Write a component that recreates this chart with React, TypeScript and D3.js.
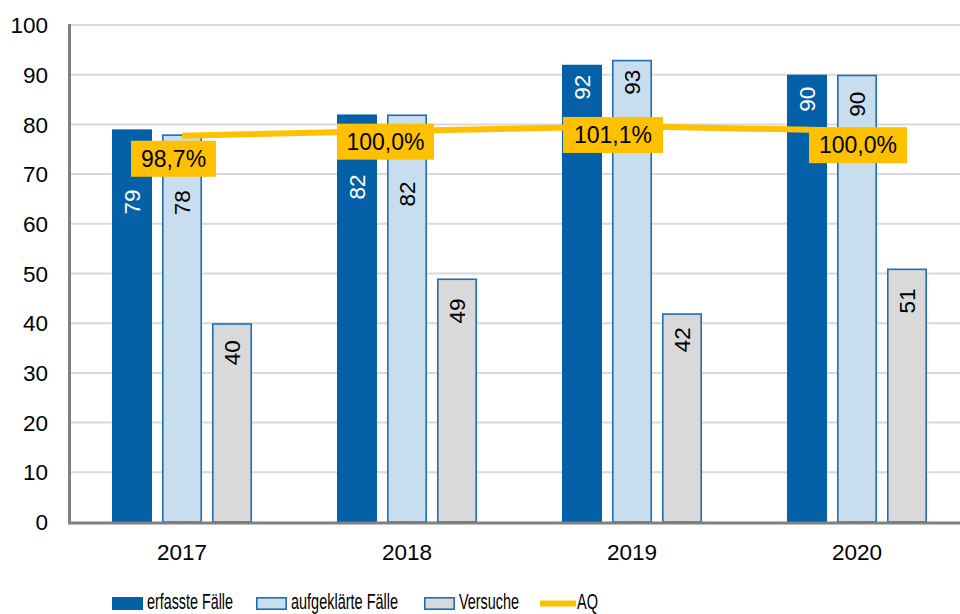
import React from "react";
import * as d3 from "d3";

const years = ["2017", "2018", "2019", "2020"];
const erfasst = [79, 82, 92, 90];
const aufgeklaert = [78, 82, 93, 90];
const versuche = [40, 49, 42, 51];
const aq = [98.7, 100.0, 101.1, 100.0];
const aqLabels = ["98,7%", "100,0%", "101,1%", "100,0%"];
const yTicks = [0, 10, 20, 30, 40, 50, 60, 70, 80, 90, 100];
const legendNames = ["erfasste Fälle", "aufgeklärte Fälle", "Versuche", "AQ"];

// layout constants (label placement as in the reference)
const barLabelShift = [
  [60, 60, 10, 12],
  [56, 67, 10, 17],
  [17, 20, 14, 20],
];
const aqBox = [
  { dx: -8.5, dy: 23, w: 85 },
  { dx: -21.5, dy: 11, w: 97 },
  { dx: -19, dy: 8.6, w: 100 },
  { dx: 1, dy: 14.5, w: 98 },
];

const W = 960;
const H = 614;
const left = 69.5;
const top = 25;
const bottom = 522;
const FONT = "Liberation Sans, Arial, sans-serif";

const DARK = "#0461a8";
const LIGHT = "#c8deef";
const GREY = "#d9d9d9";
const STROKE = "#1f6db4";
const GOLD = "#ffc000";

export default function App() {
  const x = d3.scaleBand<string>().domain(years).range([left, left + 900]).padding(0);
  const y = d3.scaleLinear().domain([0, 100]).range([bottom, top]);
  const y2 = d3.scaleLinear().domain([0, 127]).range([bottom, top]);
  const center = (i: number) => (x(years[i]) as number) + x.bandwidth() / 2;

  const series = [
    { values: erfasst, fill: DARK, stroke: "none", text: "#ffffff" },
    { values: aufgeklaert, fill: LIGHT, stroke: STROKE, text: "#000000" },
    { values: versuche, fill: GREY, stroke: STROKE, text: "#000000" },
  ];
  const barW = 40;
  const step = 50;

  const line = d3
    .line<number>()
    .x((_, i) => center(i))
    .y((d) => y2(d));

  const legendItems = [
    { sx: 112, tx: 147, tw: 86, kind: "rect", fill: DARK, stroke: "none" },
    { sx: 256, tx: 291, tw: 107, kind: "rect", fill: LIGHT, stroke: STROKE },
    { sx: 424, tx: 459, tw: 60, kind: "rect", fill: GREY, stroke: STROKE },
    { sx: 540, tx: 577, tw: 21, kind: "line", fill: GOLD, stroke: "none" },
  ];

  return (
    <svg
      width={W}
      height={H}
      style={{ position: "absolute", left: 0, top: 0, background: "#fff" }}
      fontFamily={FONT}
    >
      <rect x={0} y={0} width={W} height={H} fill="#fff" />
      {yTicks.map((t) => (
        <g key={t}>
          {t > 0 && (
            <line x1={left} x2={W} y1={y(t)} y2={y(t)} stroke="#d9d9d9" strokeWidth={2} />
          )}
          <text x={48} y={y(t)} dy="0.36em" textAnchor="end" fontSize={22.5} fill="#000">
            {t}
          </text>
        </g>
      ))}

      {series.map((s, si) =>
        s.values.map((v, i) => {
          const cx = center(i) + (si - 1) * step;
          const sw = s.stroke === "none" ? 0 : 1.6;
          return (
            <rect
              key={`b${si}-${i}`}
              x={cx - barW / 2 + sw / 2}
              y={y(v) + sw / 2}
              width={barW - sw}
              height={y(0) - y(v) - sw / 2}
              fill={s.fill}
              stroke={s.stroke}
              strokeWidth={sw}
            />
          );
        })
      )}

      {series.map((s, si) =>
        s.values.map((v, i) => {
          const cx = center(i) + (si - 1) * step;
          const ty = y(v) + barLabelShift[si][i];
          return (
            <text
              key={`l${si}-${i}`}
              transform={`translate(${cx},${ty}) rotate(-90)`}
              textAnchor="end"
              dy="0.36em"
              fontSize={22.5}
              fill={s.text}
            >
              {v}
            </text>
          );
        })
      )}

      {/* axes */}
      <line x1={left} x2={left} y1={top - 1} y2={bottom + 2} stroke="#808080" strokeWidth={3} />
      <line x1={left - 1.5} x2={W} y1={bottom + 1} y2={bottom + 1} stroke="#808080" strokeWidth={3} />

      {years.map((yr, i) => (
        <text key={yr} x={center(i)} y={552} dy="0.36em" textAnchor="middle" fontSize={22.5} fill="#000">
          {yr}
        </text>
      ))}

      <path d={line(aq) || ""} fill="none" stroke={GOLD} strokeWidth={6} />

      {aq.map((v, i) => {
        const bx = center(i) + aqBox[i].dx;
        const by = y2(v) + aqBox[i].dy;
        const bw = aqBox[i].w;
        return (
          <g key={`aq${i}`}>
            <rect x={bx - bw / 2} y={by - 18} width={bw} height={36} fill={GOLD} />
            <text x={bx} y={by} dy="0.36em" textAnchor="middle" fontSize={23} fill="#000">
              {aqLabels[i]}
            </text>
          </g>
        );
      })}

      {legendItems.map((it, i) => (
        <g key={`lg${i}`}>
          {it.kind === "rect" ? (
            <rect
              x={it.sx + (it.stroke === "none" ? 0 : 0.8)}
              y={597 + (it.stroke === "none" ? 0 : 0.8)}
              width={31 - (it.stroke === "none" ? 0 : 1.6)}
              height={13 - (it.stroke === "none" ? 0 : 1.6)}
              fill={it.fill}
              stroke={it.stroke}
              strokeWidth={it.stroke === "none" ? 0 : 1.6}
            />
          ) : (
            <line x1={it.sx} x2={it.sx + 36} y1={603.5} y2={603.5} stroke={GOLD} strokeWidth={6} />
          )}
          <text
            x={it.tx}
            y={609}
            fontSize={22}
            fill="#000"
            textLength={it.tw}
            lengthAdjust="spacingAndGlyphs"
          >
            {legendNames[i]}
          </text>
        </g>
      ))}
    </svg>
  );
}
